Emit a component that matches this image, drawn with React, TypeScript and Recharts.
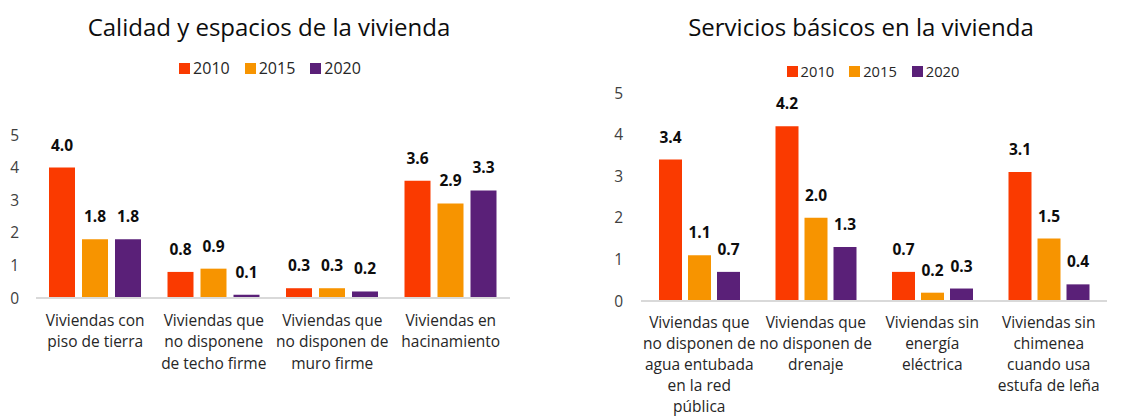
import React from "react";
import { BarChart, Bar, XAxis, YAxis, LabelList } from "recharts";

const seriesNames = ["2010", "2015", "2020"];
const seriesColors = ["#FA3A00", "#F79400", "#5A2078"];
const yTicks = [0, 1, 2, 3, 4, 5];

const titleLeft = "Calidad y espacios de la vivienda";
const categoriesLeft = [
  "Viviendas con\npiso de tierra",
  "Viviendas que\nno disponene\nde techo firme",
  "Viviendas que\nno disponen de\nmuro firme",
  "Viviendas en\nhacinamiento",
];
const left2010 = [4.0, 0.8, 0.3, 3.6];
const left2015 = [1.8, 0.9, 0.3, 2.9];
const left2020 = [1.8, 0.1, 0.2, 3.3];

const titleRight = "Servicios básicos en la vivienda";
const categoriesRight = [
  "Viviendas que\nno disponen de\nagua entubada\nen la red\npública",
  "Viviendas que\nno disponen de\ndrenaje",
  "Viviendas sin\nenergía\neléctrica",
  "Viviendas sin\nchimenea\ncuando usa\nestufa de leña",
];
const right2010 = [3.4, 4.2, 0.7, 3.1];
const right2015 = [1.1, 2.0, 0.2, 1.5];
const right2020 = [0.7, 1.3, 0.3, 0.4];

const FONT = "'Open Sans', 'Noto Sans', sans-serif";

function build(cats: string[], a: number[], b: number[], c: number[]) {
  return cats.map((name, i) => ({ name, s2010: a[i], s2015: b[i], s2020: c[i] }));
}

const makeTick = (firstDy: number, lineH: number) => (props: any) => {
  const { x, y, payload } = props;
  const lines = String(payload.value).split("\n");
  return (
    <text x={x} y={y} textAnchor="middle" fill="#262626" fontSize={15.5} fontFamily={FONT}>
      {lines.map((l, i) => (
        <tspan key={i} x={x} dy={i === 0 ? firstDy : lineH}>
          {l}
        </tspan>
      ))}
    </text>
  );
};

const LegendBox = ({ center, top, fontSize }: { center: number; top: number; fontSize: number }) => (
  <div
    style={{
      position: "absolute",
      top,
      left: center - 150,
      width: 300,
      display: "flex",
      justifyContent: "center",
      fontFamily: FONT,
      fontSize,
      lineHeight: "20px",
      color: "#262626",
    }}
  >
    {seriesNames.map((n, i) => (
      <div key={n} style={{ display: "flex", alignItems: "center", marginRight: i < 2 ? 15 : 0 }}>
        <div style={{ width: 11, height: 11, background: seriesColors[i], marginRight: 3 }} />
        <span>{n}</span>
      </div>
    ))}
  </div>
);

type PanelProps = {
  title: string;
  data: any[];
  width: number;
  left: number;
  yAxisWidth: number;
  marginRight: number;
  marginTop: number;
  marginBottom: number;
  barSize: number;
  barGap: number;
  tickMargin: number;
  titleCenter: number;
  legendCenter: number;
  legendTop: number;
  legendFont: number;
  firstDy: number;
  lineH: number;
};

const Panel = (p: PanelProps) => {
  const keys = ["s2010", "s2015", "s2020"];
  const Tick = makeTick(p.firstDy, p.lineH);
  return (
    <div style={{ position: "absolute", left: p.left, top: 0, width: p.width, height: 418 }}>
      <div
        style={{
          position: "absolute",
          top: 10,
          left: p.titleCenter - 250,
          width: 500,
          textAlign: "center",
          fontFamily: FONT,
          fontSize: 24,
          color: "#0D0D0D",
          whiteSpace: "nowrap",
        }}
      >
        {p.title}
      </div>
      <LegendBox center={p.legendCenter} top={p.legendTop} fontSize={p.legendFont} />
      <BarChart
        width={p.width}
        height={418}
        data={p.data}
        margin={{ top: p.marginTop, right: p.marginRight, bottom: p.marginBottom, left: 0 }}
        barSize={p.barSize}
        barGap={p.barGap}
      >
        <XAxis
          dataKey="name"
          axisLine={{ stroke: "#D9D9D9", strokeWidth: 2 }}
          tickLine={false}
          interval={0}
          tick={<Tick />}
          height={110}
        />
        <YAxis
          domain={[0, 5]}
          ticks={yTicks}
          width={p.yAxisWidth}
          axisLine={false}
          tickLine={false}
          tickSize={0}
          tickMargin={p.tickMargin}
          tick={{ fill: "#404040", fontSize: 15.5, fontFamily: FONT }}
        />
        {keys.map((k, i) => (
          <Bar key={k} dataKey={k} name={seriesNames[i]} fill={seriesColors[i]} isAnimationActive={false}>
            <LabelList
              dataKey={k}
              position="top"
              offset={17}
              formatter={(v: any) => Number(v).toFixed(1)}
              style={{ fill: "#0D0D0D", fontWeight: 700, fontSize: 15.5, fontFamily: FONT }}
            />
          </Bar>
        ))}
      </BarChart>
    </div>
  );
};

export default function App() {
  return (
    <div style={{ position: "absolute", left: 0, top: 0, width: 1133, height: 418, background: "#fff", overflow: "hidden" }}>
      <Panel
        title={titleLeft}
        data={build(categoriesLeft, left2010, left2015, left2020)}
        width={540}
        left={0}
        yAxisWidth={36}
        marginRight={30}
        marginTop={135}
        marginBottom={10}
        barSize={26}
        barGap={7}
        tickMargin={17}
        titleCenter={269}
        legendCenter={270}
        legendTop={58}
        legendFont={16}
        firstDy={19.5}
        lineH={21.7}
      />
      <Panel
        title={titleRight}
        data={build(categoriesRight, right2010, right2015, right2020)}
        width={553}
        left={580}
        yAxisWidth={61}
        marginRight={26}
        marginTop={93}
        marginBottom={7}
        barSize={23}
        barGap={6}
        tickMargin={18}
        titleCenter={281}
        legendCenter={293}
        legendTop={61}
        legendFont={14.7}
        firstDy={19}
        lineH={21}
      />
    </div>
  );
}
